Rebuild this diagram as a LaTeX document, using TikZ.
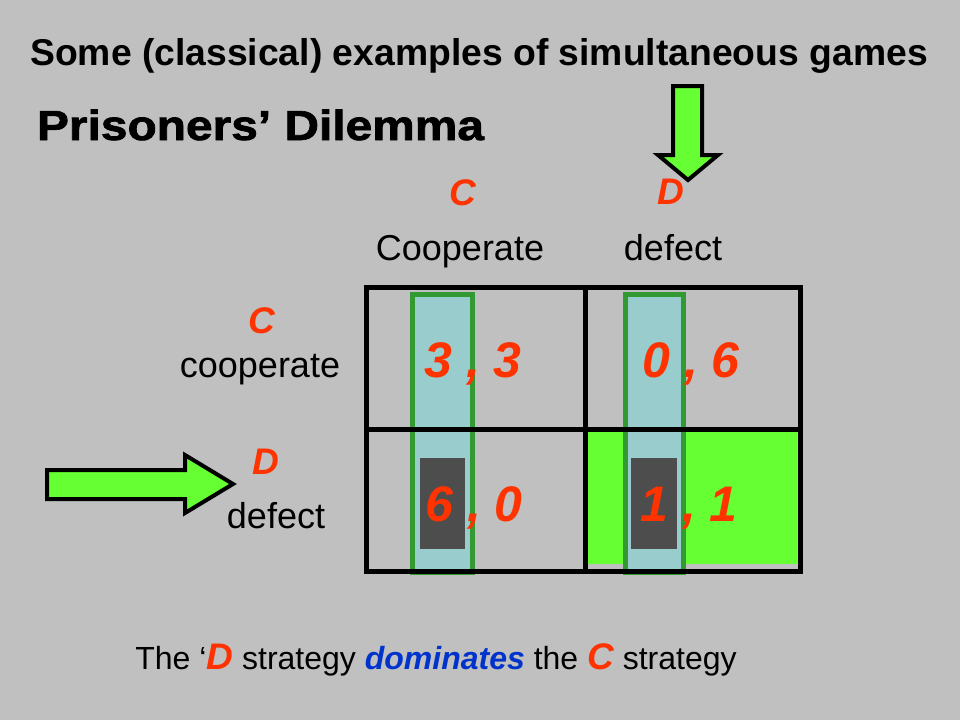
\documentclass[tikz,border=0pt]{standalone}
\usepackage{fontspec}
\setmainfont{Liberation Sans}
\newfontfamily\heavyfont[FakeBold=1.6]{Liberation Sans Bold}
\definecolor{bg}{HTML}{C0C0C0}
\definecolor{redo}{HTML}{FF3300}
\definecolor{blueb}{HTML}{0033CC}
\definecolor{lgreen}{HTML}{66FF33}
\definecolor{dgreen}{HTML}{339933}
\definecolor{lblue}{HTML}{99CCCC}
\definecolor{dgray}{HTML}{4D4D4D}
\tikzset{
  txt/.style={inner sep=0pt, outer sep=0pt, anchor=base},
  big/.style={txt, font=\fontsize{36}{40}\selectfont},
  letter/.style={txt, text=redo, font=\fontsize{37}{40}\selectfont\bfseries\itshape},
  payoff/.style={txt, text=redo, font=\fontsize{50}{56}\selectfont\bfseries\itshape},
  greenarrow/.style={fill=lgreen, draw=black, line width=4pt, line join=miter},
  col/.style={fill=lblue, draw=dgreen, line width=5pt},
  grid/.style={draw=black, line width=5pt}
}
\begin{document}
\begin{tikzpicture}[x=1pt,y=-1pt]
\fill[bg] (0,0) rectangle (960,720);
\useasboundingbox (0,0) rectangle (960,720);
% titles
\node[txt, font=\fontsize{37.3}{40}\selectfont\bfseries] (title) at (479,65) {Some (classical) examples of simultaneous games};
\node[txt, anchor=base west, font=\fontsize{42}{48}\selectfont\heavyfont] (pd) at (37,140) {\scalebox{1.14}[1]{Prisoners’ Dilemma}};
% down arrow
\draw[greenarrow] (673,86) -- (702,86) -- (702,155) -- (718,155) -- (688,180) -- (658,155) -- (673,155) -- cycle;
% right arrow
\draw[greenarrow] (47,470) -- (185,470) -- (185,455) -- (233,484) -- (185,513) -- (185,499) -- (47,499) -- cycle;
% column labels
\node[letter] (cC) at (463,205) {C};
\node[letter] (cD) at (671,204) {D};
\node[big] (cCoop) at (460,260) {Cooperate};
\node[big] (cDef) at (673,260) {defect};
% row labels
\node[letter] (rC) at (262,333) {C};
\node[big] (rCoop) at (260,377) {cooperate};
\node[letter] (rD) at (266,474) {D};
\node[big] (rDef) at (276,528) {defect};
% matrix
\fill[lgreen] (585,429) rectangle (797,564);
\draw[col] (412,294) rectangle (472,572);
\draw[col] (625,294) rectangle (683,572);
\fill[dgray] (420,458) rectangle (465,549);
\fill[dgray] (631,458) rectangle (677,549);
\draw[grid] (366.5,287.5) rectangle (800.5,571.5);
\draw[grid] (585,287.5) -- (585,571.5);
\draw[grid] (366.5,429) -- (800.5,429);
\node[payoff] (p11) at (473,377) {3 , 3};
\node[payoff] (p12) at (691,377) {0 , 6};
\node[payoff] (p21) at (474,521) {6 , 0};
\node[payoff] (p22) at (689,521) {1 , 1};
% bottom text
\node[txt, font=\fontsize{32}{36}\selectfont] (bottom) at (436,669) {The ‘\textcolor{redo}{\fontsize{37}{40}\selectfont\bfseries\itshape D} strategy \textcolor{blueb}{\bfseries\itshape dominates} the \textcolor{redo}{\fontsize{37}{40}\selectfont\bfseries\itshape C} strategy};
\end{tikzpicture}
\end{document}
